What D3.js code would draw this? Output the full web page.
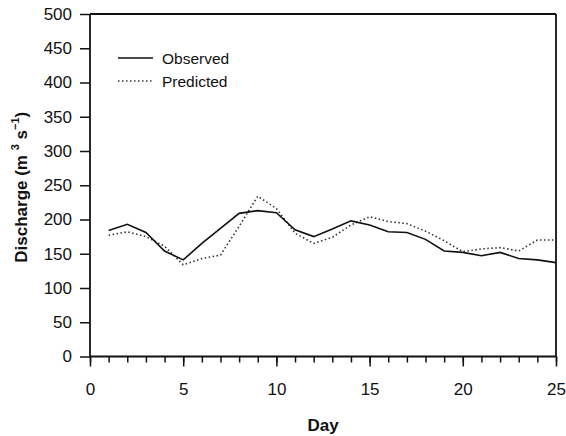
<!DOCTYPE html>
<html>
<head>
<meta charset="utf-8">
<script src="https://cdn.jsdelivr.net/npm/d3@7"></script>
<style>
  body { margin: 0; background: #fff; }
  svg { font-family: "Liberation Sans", Arial, sans-serif; }
</style>
</head>
<body>
<script>
var days = d3.range(1, 26);
var observed = [184, 193, 181, 154, 141, 165, 187, 209, 213, 210, 185, 175, 186, 198, 192, 182, 181, 171, 154, 152, 147, 152, 143, 141, 137];
var predicted = [177, 182, 175, 161, 134, 143, 148, 190, 234, 216, 180, 165, 174, 192, 204, 197, 194, 183, 169, 153, 157, 159, 154, 170, 170];
var yTicks = [0, 50, 100, 150, 200, 250, 300, 350, 400, 450, 500];
var xMajor = [0, 5, 10, 15, 20, 25];
var xMinor = d3.range(0, 26);

var width = 566, height = 436;
var margin = { top: 14, right: 10, bottom: 79.5, left: 90 };

var svg = d3.select("body")
    .append("svg")
    .attr("width", width)
    .attr("height", height);

var x = d3.scaleLinear()
    .domain([0, 25])
    .range([margin.left, width - margin.right]);

var y = d3.scaleLinear()
    .domain([0, 500])
    .range([height - margin.bottom, margin.top]);

// y axis ticks and labels
var yAxis = svg.append("g")
    .attr("transform", "translate(" + margin.left + ",0)")
    .call(d3.axisLeft(y).tickValues(yTicks).tickSize(10).tickPadding(8));
yAxis.select(".domain").remove();
yAxis.selectAll("line").attr("stroke", "#111").attr("stroke-width", 1.5);
yAxis.selectAll("text")
    .attr("font-size", 17)
    .attr("font-family", "Liberation Sans, Arial, sans-serif")
    .attr("fill", "#111");

// x axis minor ticks
var xMinorAxis = svg.append("g")
    .attr("transform", "translate(0," + y(0) + ")")
    .call(d3.axisBottom(x).tickValues(xMinor).tickSize(6).tickFormat(""));
xMinorAxis.select(".domain").remove();
xMinorAxis.selectAll("line").attr("stroke", "#111").attr("stroke-width", 1.5);

// x axis major ticks and labels
var xAxis = svg.append("g")
    .attr("transform", "translate(0," + y(0) + ")")
    .call(d3.axisBottom(x).tickValues(xMajor).tickSize(10).tickPadding(16));
xAxis.select(".domain").remove();
xAxis.selectAll("line").attr("stroke", "#111").attr("stroke-width", 1.5);
xAxis.selectAll("text")
    .attr("font-size", 17)
    .attr("font-family", "Liberation Sans, Arial, sans-serif")
    .attr("fill", "#111");

// frame
var frame = svg.append("g").attr("stroke", "#111").attr("stroke-width", 1.8).attr("fill", "none");
frame.append("line").attr("x1", x(0)).attr("x2", x(0)).attr("y1", y(500)).attr("y2", y(0));
frame.append("line").attr("x1", x(25)).attr("x2", x(25)).attr("y1", y(500)).attr("y2", y(0));
frame.append("line").attr("x1", x(0)).attr("x2", x(25)).attr("y1", y(500)).attr("y2", y(500));
frame.append("line").attr("x1", x(0)).attr("x2", x(25)).attr("y1", y(0)).attr("y2", y(0));

// series
var line = d3.line()
    .x(function(d, i) { return x(days[i]); })
    .y(function(d) { return y(d); });

svg.append("path")
    .datum(predicted)
    .attr("fill", "none")
    .attr("stroke", "#333")
    .attr("stroke-width", 1.6)
    .attr("stroke-dasharray", "1.5,2.5")
    .attr("d", line);

svg.append("path")
    .datum(observed)
    .attr("fill", "none")
    .attr("stroke", "#111")
    .attr("stroke-width", 1.6)
    .attr("d", line);

// legend
var legend = svg.append("g");
legend.append("line")
    .attr("x1", 118).attr("x2", 153).attr("y1", 58).attr("y2", 58)
    .attr("stroke", "#111").attr("stroke-width", 1.3);
legend.append("line")
    .attr("x1", 118).attr("x2", 153).attr("y1", 81).attr("y2", 81)
    .attr("stroke", "#333").attr("stroke-width", 1.3).attr("stroke-dasharray", "1.5,2.5");
legend.append("text")
    .attr("x", 162).attr("y", 63.5)
    .attr("font-size", 15.5).attr("fill", "#111")
    .text("Observed");
legend.append("text")
    .attr("x", 162).attr("y", 86.5)
    .attr("font-size", 15.5).attr("fill", "#111")
    .text("Predicted");

// axis titles
svg.append("text")
    .attr("x", (x(0) + x(25)) / 2)
    .attr("y", 431)
    .attr("text-anchor", "middle")
    .attr("font-size", 17)
    .attr("font-weight", "bold")
    .attr("fill", "#111")
    .text("Day");

var yTitle = svg.append("text")
    .attr("transform", "translate(27," + ((y(0) + y(500)) / 2 + 2) + ") rotate(-90)")
    .attr("text-anchor", "middle")
    .attr("font-size", 17)
    .attr("font-weight", "bold")
    .attr("fill", "#111");
yTitle.append("tspan").text("Discharge (m ");
yTitle.append("tspan").attr("font-size", 11).attr("dy", -8).text("3");
yTitle.append("tspan").attr("dy", 8).text(" s");
yTitle.append("tspan").attr("font-size", 11).attr("dy", -8).text("\u22121");
yTitle.append("tspan").attr("dy", 8).text(")");
</script>
</body>
</html>
